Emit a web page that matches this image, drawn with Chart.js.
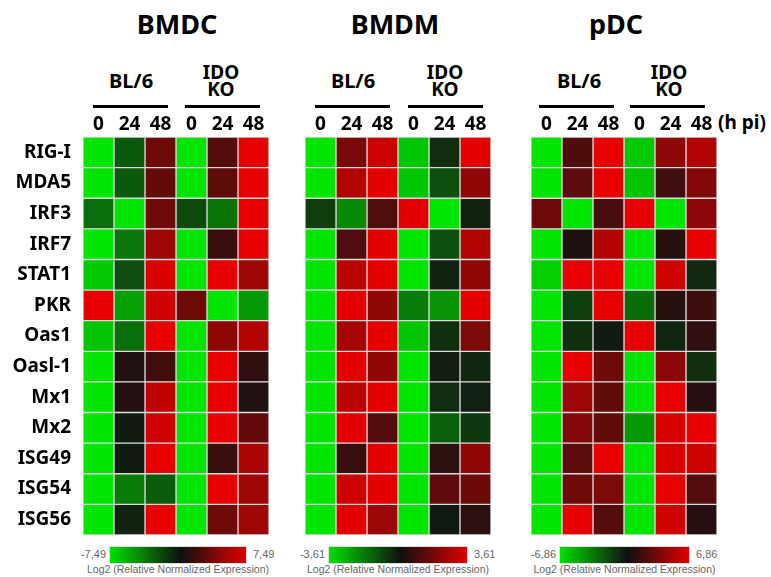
<!DOCTYPE html>
<html>
<head>
<meta charset="utf-8">
<script src="https://cdn.jsdelivr.net/npm/chart.js@4.4.1/dist/chart.umd.min.js"></script>
<style>
  body { margin: 0; background: #fff; font-family: "Noto Sans", sans-serif; color: #000; }
  #wrap { position: relative; width: 771px; height: 577px; overflow: hidden; }
  #wrap div, #wrap canvas { position: absolute; }
  .title { font-weight: bold; font-size: 27px; line-height: 1; width: 200px; text-align: center; }
  .grp { font-weight: bold; font-size: 20px; line-height: 1; width: 120px; text-align: center; }
  .grp2 { font-weight: bold; font-size: 19px; line-height: 17px; width: 120px; text-align: center; }
  .rule { height: 3px; background: #000; }
  .bar { height: 16px; border: 1px solid #ddd; background: linear-gradient(to right, #00e000, #101010 52%, #e00000); }
  .cb { font-family: "Liberation Sans", sans-serif; font-size: 11px; color: #666; line-height: 1; }
  .cbl { font-family: "Liberation Sans", sans-serif; font-size: 10.5px; color: #666; line-height: 1; width: 260px; text-align: center; }
</style>
</head>
<body>
<div id="wrap"></div>
<script>
// rows and columns
const genes = ['RIG-I', 'MDA5', 'IRF3', 'IRF7', 'STAT1', 'PKR', 'Oas1', 'Oasl-1', 'Mx1', 'Mx2', 'ISG49', 'ISG54', 'ISG56'];
const timeLabels = ['0', '24', '48', '0', '24', '48'];
const groupLabels = ['BL/6', 'IDO\nKO'];
const panelTitles = ['BMDC', 'BMDM', 'pDC'];
const scaleMax = [7.49, 3.61, 6.86];

// log2 relative normalized expression
const bmdcValues = [
  [-7.5, -2.6, 3.4, -7.5, 2.5, 7.5],
  [-7.5, -2.6, 3.0, -7.5, 2.8, 7.5],
  [-3.4, -7.5, 3.4, -2.1, -3.6, 7.5],
  [-7.5, -3.7, 5.2, -7.5, 1.5, 7.5],
  [-6.6, -2.2, 7.1, -7.5, 7.5, 5.2],
  [7.5, -5.2, 6.7, 3.4, -7.5, -4.9],
  [-6.4, -3.4, 7.5, -7.5, 4.5, 5.8],
  [-7.5, 0.6, 1.9, -7.5, 7.5, 1.1],
  [-7.5, 0.7, 6.2, -7.5, 7.5, 0.6],
  [-7.5, -0.4, 6.7, -7.5, 7.5, 3.0],
  [-7.5, -0.4, 7.5, -7.5, 1.5, 5.6],
  [-7.5, -3.9, -2.8, -7.5, 7.5, 5.2],
  [-7.5, -0.6, 7.5, -7.5, 3.4, 5.2]
];
const bmdmValues = [
  [-3.6, 1.8, 3.2, -3.1, -0.5, 3.6],
  [-3.6, 2.8, 3.6, -3.1, -1.1, 2.2],
  [-0.8, -2.1, 1.1, 3.6, -3.6, -0.3],
  [-3.6, 1.1, 3.6, -3.6, -1.1, 2.8],
  [-3.6, 2.9, 3.6, -3.6, -0.3, 2.2],
  [-3.6, 3.6, 2.2, -1.9, -2.3, 3.6],
  [-3.6, 2.6, 3.6, -3.1, -0.5, 1.9],
  [-3.6, 3.6, 2.2, -3.6, -0.2, -0.4],
  [-3.6, 2.9, 3.6, -3.6, -0.5, -0.25],
  [-3.6, 3.6, 1.2, -3.6, -1.4, -0.7],
  [-3.6, 0.7, 3.6, -3.6, 0.5, 2.2],
  [-3.6, 3.2, 3.6, -3.6, 1.4, 1.6],
  [-3.6, 3.6, 2.4, -3.6, -0.15, 0.5]
];
const pdcValues = [
  [-6.9, 2.1, 6.9, -6.0, 4.1, 5.3],
  [-6.9, 2.6, 6.9, -5.8, 1.6, 3.8],
  [3.1, -6.9, 1.9, 6.9, -6.9, 4.1],
  [-6.9, 0.5, 5.3, -6.9, 0.7, 6.9],
  [-6.2, 6.9, 6.9, -6.9, 6.2, -0.8],
  [-6.9, -1.5, 6.9, -3.1, 0.7, 1.5],
  [-6.9, -1.0, -0.3, 6.9, -0.7, 1.0],
  [-6.9, 6.9, 3.1, -6.9, 4.1, -1.0],
  [-6.9, 4.6, 2.7, -6.9, 6.9, 0.7],
  [-6.9, 3.8, 2.7, -4.5, 6.4, 6.9],
  [-6.9, 2.6, 6.9, -6.9, 6.5, 6.2],
  [-6.9, 3.1, 3.6, -6.9, 6.9, 2.3],
  [-6.9, 6.9, 2.3, -6.9, 6.2, 0.7]
];
const allValues = [bmdcValues, bmdmValues, pdcValues];

// layout of the three panels (px)
const panels = [
  { left: 0, areaLeft: 83, titleX: 177, grpX: [131, 221], ruleX: [[93, 168], [185, 260]], bar: [109, 247] },
  { left: 305, areaLeft: 305, titleX: 395, grpX: [353, 445], ruleX: [[315, 390], [408, 483]], bar: [328, 468] },
  { left: 531, areaLeft: 531, titleX: 616, grpX: [579, 669], ruleX: [[539, 614], [630, 705]], bar: [559, 690] }
];
const AREA_W = 186, TOP = 110, AXIS_H = 27, BOTTOM = 535;

const wrap = document.getElementById('wrap');
function add(cls, css, text) {
  const d = document.createElement('div');
  d.className = cls;
  Object.assign(d.style, css);
  if (text !== undefined) d.textContent = text;
  wrap.appendChild(d);
  return d;
}

function cellColor(v, max) {
  const t = Math.max(-1, Math.min(1, v / max));
  const a = Math.abs(t);
  const base = 18 * (1 - a);
  const hi = Math.round(base + (230 - base) * a);
  const lo = Math.round(base);
  return t < 0 ? `rgb(${lo},${hi},${lo})` : `rgb(${hi},${lo},${lo})`;
}

panels.forEach((p, k) => {
  add('title', { left: (p.titleX - 100) + 'px', top: '10px' }, panelTitles[k]);
  add('grp', { left: (p.grpX[0] - 60) + 'px', top: '71px' }, groupLabels[0]);
  const g2 = add('grp2', { left: (p.grpX[1] - 60) + 'px', top: '64px' });
  g2.innerHTML = groupLabels[1].replace('\n', '<br>');
  p.ruleX.forEach(r => add('rule', { left: r[0] + 'px', top: '105px', width: (r[1] - r[0]) + 'px' }));

  const cv = document.createElement('canvas');
  const w = p.areaLeft - p.left + AREA_W;
  cv.width = w; cv.height = BOTTOM - TOP;
  cv.style.left = p.left + 'px'; cv.style.top = TOP + 'px';
  wrap.appendChild(cv);

  const vals = allValues[k];
  const datasets = timeLabels.map((_, j) => ({
    data: genes.map(() => [j, j + 1]),
    backgroundColor: genes.map((_, i) => cellColor(vals[i][j], scaleMax[k])),
    borderColor: '#dcdcdc',
    borderWidth: 1,
    borderSkipped: false,
    grouped: false,
    categoryPercentage: 1,
    barPercentage: 1
  }));

  new Chart(cv, {
    type: 'bar',
    data: { labels: genes, datasets },
    options: {
      indexAxis: 'y',
      responsive: false,
      animation: false,
      layout: { padding: 0 },
      plugins: { legend: { display: false }, tooltip: { enabled: false } },
      scales: {
        x: {
          type: 'linear', position: 'top', min: 0, max: 6,
          grid: { display: false, drawTicks: false }, border: { display: false },
          afterBuildTicks: s => { s.ticks = timeLabels.map((_, i) => ({ value: i + 0.5 })); },
          afterFit: s => { s.height = AXIS_H; s.paddingLeft = 0; s.paddingRight = 0; },
          ticks: {
            padding: 1, color: '#000', maxRotation: 0, autoSkip: false,
            font: { family: 'Noto Sans', size: 19, weight: 'bold' },
            callback: (v, i) => timeLabels[i]
          }
        },
        y: {
          display: k === 0,
          grid: { display: false, drawTicks: false }, border: { display: false },
          afterFit: s => { s.width = p.areaLeft - p.left; s.paddingTop = 0; s.paddingBottom = 0; },
          ticks: {
            padding: 12, color: '#000', autoSkip: false,
            font: { family: 'Noto Sans', size: 19, weight: 'bold' }
          }
        }
      }
    }
  });

  // colour scale
  add('bar', { left: p.bar[0] + 'px', top: '546px', width: (p.bar[1] - p.bar[0] - 2) + 'px' });
  const lo = add('cb', { top: '549px' }, '-' + scaleMax[k].toFixed(2).replace('.', ','));
  lo.style.left = (p.bar[0] - 3) + 'px';
  lo.style.transform = 'translateX(-100%)';
  add('cb', { left: (p.bar[1] + 6) + 'px', top: '549px' }, scaleMax[k].toFixed(2).replace('.', ','));
  add('cbl', { left: ((p.bar[0] + p.bar[1]) / 2 - 130) + 'px', top: '564px' }, 'Log2 (Relative Normalized Expression)');
});

add('grp', { left: '718px', top: '113px', width: 'auto', fontSize: '19px', textAlign: 'left' }, '(h pi)');
</script>
</body>
</html>
